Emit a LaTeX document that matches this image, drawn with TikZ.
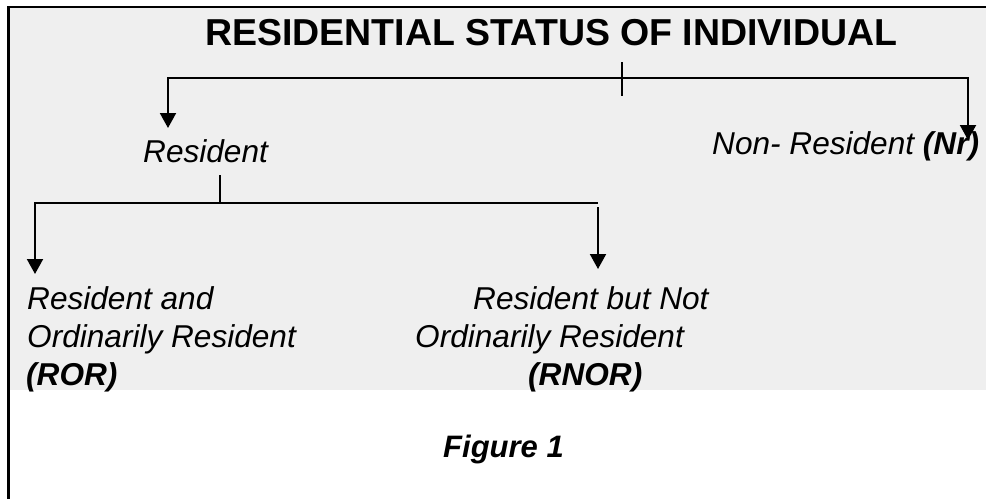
\documentclass[tikz,border=0pt]{standalone}
\usepackage{fontspec}
\setmainfont{Liberation Sans}
\usetikzlibrary{arrows.meta}
\definecolor{panelgray}{HTML}{EFEFEF}

\begin{document}
\begin{tikzpicture}[x=1pt,y=-1pt,
        lbl/.style={anchor=base west,inner sep=0pt,font=\fontsize{31.6}{38}\selectfont\itshape},
        arr/.style={line width=2pt,-{Triangle[width=16pt,length=15pt]}},
        bar/.style={line width=2pt}]
                \useasboundingbox (0,0) rectangle (986,499);
                
                % Panel and frame
                \fill[panelgray] (9,8) rectangle (986,390);
                \draw[line width=2.5pt] (986,7) -- (8.5,7) -- (8.5,499);
                
                % Title
                \node[lbl,font=\fontsize{37.5}{44}\selectfont\bfseries] (title) at (205,45) {RESIDENTIAL STATUS OF INDIVIDUAL};
                
                % First level
                \node[lbl] (res) at (143,162) {Resident};
                \node[lbl] (nonres) at (712,154) {Non- Resident \textbf{(Nr)}};
                
                % Second level
                \node[lbl] (rorA) at (27,309) {Resident and};
                \node[lbl] (rorB) at (27,347) {Ordinarily Resident};
                \node[lbl] (rorC) at (26,385) {\textbf{(ROR)}};
                \node[lbl] (rnorA) at (473,309) {Resident but Not};
                \node[lbl] (rnorB) at (415,347) {Ordinarily Resident};
                \node[lbl] (rnorC) at (528,385) {\textbf{(RNOR)}};
                
                % Caption
                \node[lbl,font=\fontsize{31}{38}\selectfont\bfseries\itshape] (fig) at (443,457) {Figure 1};
                
                % Branches from the title
                \coordinate (tTop) at (622,62);
                \coordinate (tMid) at (622,78);
                \coordinate (tBot) at (622,96);
                \coordinate (resTip) at (168,128);
                \coordinate (nonTip) at (968,140);
                \draw[bar] (tTop) -- (tBot);
                \draw[arr] (tMid) -| (resTip);
                \draw[arr] (tMid) -| (nonTip);
                
                % Branches from Resident
                \coordinate (sTop) at (220,175);
                \coordinate (sMid) at (220,203);
                \coordinate (sEnd) at (598,203);
                \coordinate (rorTip) at (35,274);
                \coordinate (rnorTop) at (598,207);
                \coordinate (rnorTip) at (598,269);
                \draw[bar] (sTop) -- (sMid) -- (sEnd);
                \draw[arr] (sMid) -| (rorTip);
                \draw[arr] (rnorTop) -- (rnorTip);
            \end{tikzpicture}
\end{document}
